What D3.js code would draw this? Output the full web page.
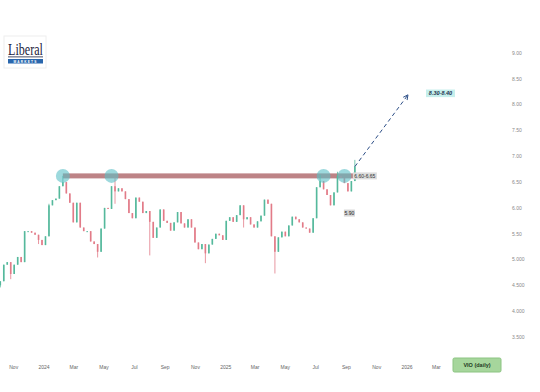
<!DOCTYPE html>
<html>
<head>
<meta charset="utf-8">
<script src="https://cdn.jsdelivr.net/npm/d3@7"></script>
<style>
  body { margin: 0; background: #fff; }
  svg { display: block; font-family: "Liberation Sans", Arial, sans-serif; }
</style>
</head>
<body>
<div id="chart"></div>
<script>
// weekly closes, first Friday = 2023-10-06
var weekStart = '2023-10-06';
var firstOpen = 4.50;
var closes = [
  4.58, 4.90, 4.95, 4.72, 4.90, 5.05, 4.95, 5.55, 5.55, 5.52,
  5.48, 5.38, 5.28, 5.45, 6.05, 6.15, 6.18, 6.42, 6.50, 6.28,
  6.10, 5.72, 6.10, 5.62, 5.55, 5.55, 5.35, 5.30, 5.15, 5.60,
  6.00, 5.98, 6.42, 6.32, 6.38, 6.32, 6.17, 5.90, 5.80, 6.20,
  6.12, 5.90, 5.94, 5.73, 5.42, 5.62, 5.97, 5.75, 5.71, 5.56,
  5.72, 5.92, 5.70, 5.62, 5.78, 5.62, 5.33, 5.20, 5.30, 5.12,
  5.29, 5.40, 5.50, 5.47, 5.38, 5.75, 5.82, 5.73, 5.86, 6.05,
  5.78, 5.82, 5.68, 5.62, 5.74, 5.85, 6.16, 6.08, 5.45, 5.15,
  5.43, 5.54, 5.45, 5.66, 5.83, 5.78, 5.72, 5.62, 5.60, 5.52,
  5.80, 6.40, 6.52, 6.36, 6.25, 6.05, 6.30, 6.62, 6.58, 6.48,
  6.32, 6.52, 6.80
];
// [week index, price] for the longer wicks
var wickHighs = [[14, 6.08], [18, 6.62], [33, 6.60], [92, 6.64], [97, 6.70], [102, 6.93]];
var wickLows = [[0, 4.46], [3, 4.62], [11, 5.30], [28, 5.04], [33, 6.08], [43, 5.08], [59, 4.93], [70, 5.62], [79, 4.73]];

var yTicks = [9.00, 8.50, 8.00, 7.50, 7.00, 6.50, 6.00, 5.50, 5.00, 4.50, 4.00, 3.50];
var yTickLabels = ['9.00', '8.50', '8.00', '7.50', '7.00', '6.50', '6.00', '5.50', '5.000', '4.500', '4.000', '3.500'];
var xTickDates = ['2023-11-01', '2024-01-01', '2024-03-01', '2024-05-01', '2024-07-01', '2024-09-01', '2024-11-01',
  '2025-01-01', '2025-03-01', '2025-05-01', '2025-07-01', '2025-09-01', '2025-11-01', '2026-01-01', '2026-03-01'];
var xTickLabels = ['Nov', '2024', 'Mar', 'May', 'Jul', 'Sep', 'Nov', '2025', 'Mar', 'May', 'Jul', 'Sep', 'Nov', '2026', 'Mar'];

var resistance = 6.62;
var touchDates = ['2024-02-09', '2024-05-17', '2025-07-18', '2025-08-29'];
var supportLabel = { date: '2025-09-08', price: 5.90, text: '5.90' };
var targetDate = '2026-01-04';
var targetPrice = 8.19;

var parse = d3.timeParse('%Y-%m-%d');
var W = 540, H = 392;

var x = d3.scaleTime()
  .domain([parse('2024-01-01'), parse('2026-01-01')])
  .range([43.5, 406.5]);
var y = d3.scaleLinear()
  .domain([3.5, 9])
  .range([337, 53]);

var svg = d3.select('#chart').append('svg')
  .attr('width', W)
  .attr('height', H);

// candles
var start = parse(weekStart);
var candles = closes.map(function(c, i){
  var o = i === 0 ? firstOpen : closes[i - 1];
  var hi = Math.max(o, c), lo = Math.min(o, c);
  wickHighs.forEach(function(w){ if (w[0] === i) hi = Math.max(hi, w[1]); });
  wickLows.forEach(function(w){ if (w[0] === i) lo = Math.min(lo, w[1]); });
  return { date: d3.timeDay.offset(start, 7 * i), open: o, close: c, high: hi, low: lo };
});
var upCol = '#55b99c', downCol = '#e27b88';

// resistance band
svg.append('rect')
  .attr('x', x(parse(touchDates[0])))
  .attr('y', y(resistance) - 2.5)
  .attr('width', x(candles[candles.length - 1].date) - x(parse(touchDates[0])))
  .attr('height', 5)
  .attr('fill', '#ad6468')
  .attr('opacity', 0.8);

var g = svg.append('g');
g.selectAll('line.wick')
  .data(candles)
  .enter()
  .append('line')
  .attr('x1', function(d){ return x(d.date); })
  .attr('x2', function(d){ return x(d.date); })
  .attr('y1', function(d){ return y(d.high); })
  .attr('y2', function(d){ return y(d.low); })
  .attr('stroke', function(d){ return d.close >= d.open ? upCol : downCol; })
  .attr('stroke-width', 0.8);
g.selectAll('rect')
  .data(candles)
  .enter()
  .append('rect')
  .attr('x', function(d){ return x(d.date) - 0.8; })
  .attr('y', function(d){ return y(Math.max(d.open, d.close)); })
  .attr('width', 1.6)
  .attr('height', function(d){ return Math.max(1, Math.abs(y(d.open) - y(d.close))); })
  .attr('fill', function(d){ return d.close >= d.open ? upCol : downCol; });

// touch circles
svg.selectAll('circle.touch')
  .data(touchDates)
  .enter()
  .append('circle')
  .attr('cx', function(d){ return x(parse(d)); })
  .attr('cy', y(resistance))
  .attr('r', 7)
  .attr('fill', '#5cc0c6')
  .attr('opacity', 0.6);

// 6.60-6.65 label
var last = candles[candles.length - 1];
var rl = svg.append('g').attr('transform', 'translate(' + (x(last.date) - 2) + ',' + y(resistance) + ')');
rl.append('rect').attr('x', 0).attr('y', -3.5).attr('width', 24).attr('height', 7).attr('fill', '#dcdcdc');
rl.append('text').attr('x', 12).attr('y', 1.8).attr('text-anchor', 'middle')
  .attr('font-size', 5).attr('fill', '#333').text('6.60-6.65');

// 5.90 label
var sl = svg.append('g').attr('transform', 'translate(' + x(parse(supportLabel.date)) + ',' + y(supportLabel.price) + ')');
sl.append('rect').attr('x', -5.5).attr('y', -3.5).attr('width', 11).attr('height', 7).attr('fill', '#d6d6d6');
sl.append('text').attr('x', 0).attr('y', 1.8).attr('text-anchor', 'middle')
  .attr('font-size', 5).attr('fill', '#222').text(supportLabel.text);

// projection arrow
svg.append('defs').append('marker')
  .attr('id', 'arr')
  .attr('viewBox', '0 0 10 10')
  .attr('refX', 9).attr('refY', 5)
  .attr('markerWidth', 6).attr('markerHeight', 6)
  .attr('orient', 'auto')
  .append('path')
  .attr('d', 'M1,1 L9,5 L1,9')
  .attr('fill', 'none')
  .attr('stroke', '#2b4d86')
  .attr('stroke-width', 1.5);
svg.append('line')
  .attr('x1', x(last.date))
  .attr('y1', y(last.close))
  .attr('x2', x(parse(targetDate)))
  .attr('y2', y(targetPrice))
  .attr('stroke', '#2b4d86')
  .attr('stroke-width', 1)
  .attr('stroke-dasharray', '4,3')
  .attr('marker-end', 'url(#arr)');

var tl = svg.append('g').attr('transform', 'translate(' + (x(parse(targetDate)) + 18) + ',' + (y(targetPrice) - 1.5) + ')');
tl.append('rect').attr('x', 0).attr('y', -3.8).attr('width', 29).attr('height', 7.6).attr('fill', '#c6efec');
tl.append('text').attr('x', 14.5).attr('y', 2).attr('text-anchor', 'middle')
  .attr('font-size', 5.5).attr('font-weight', 'bold').attr('font-style', 'italic')
  .attr('fill', '#1d2f4d').text('8.30-8.40');

// right price axis
svg.selectAll('text.ylab')
  .data(yTicks)
  .enter()
  .append('text')
  .attr('class', 'ylab')
  .attr('x', 512)
  .attr('y', function(d){ return y(d) + 1.8; })
  .attr('font-size', 5)
  .attr('fill', '#888')
  .text(function(d, i){ return yTickLabels[i]; });

// time axis
var xAxis = d3.axisBottom(x)
  .tickValues(xTickDates.map(parse))
  .tickFormat(function(d, i){ return xTickLabels[i]; })
  .tickSize(0);
var ax = svg.append('g')
  .attr('transform', 'translate(0,362)')
  .call(xAxis);
ax.select('.domain').remove();
ax.selectAll('text').attr('font-size', 5).attr('fill', '#666').attr('font-family', '"Liberation Sans", Arial, sans-serif');

// symbol tag
svg.append('rect')
  .attr('x', 453).attr('y', 358).attr('width', 48).attr('height', 14)
  .attr('rx', 1.5)
  .attr('fill', '#a6d69c')
  .attr('stroke', '#8cc482');
svg.append('text')
  .attr('x', 477).attr('y', 367)
  .attr('text-anchor', 'middle')
  .attr('font-size', 5.5)
  .attr('font-weight', 'bold')
  .attr('fill', '#1f3a1f')
  .text('VIO (daily)');

// logo
var logo = svg.append('g').attr('transform', 'translate(4,36)');
logo.append('rect').attr('x', 0).attr('y', 0).attr('width', 42).attr('height', 32).attr('fill', '#fff')
  .attr('stroke', '#eee');
logo.append('text')
  .attr('x', 4).attr('y', 19)
  .attr('font-family', '"Liberation Serif", "DejaVu Serif", serif')
  .attr('font-size', 17)
  .attr('textLength', 35)
  .attr('lengthAdjust', 'spacingAndGlyphs')
  .attr('fill', '#1d2340')
  .text('Liberal');
logo.append('rect').attr('x', 4).attr('y', 20.5).attr('width', 35).attr('height', 0.8).attr('fill', '#1d2340');
logo.append('rect').attr('x', 4).attr('y', 23).attr('width', 35).attr('height', 4.5).attr('fill', '#2a67ad');
logo.append('text')
  .attr('x', 21.5).attr('y', 26.6)
  .attr('text-anchor', 'middle')
  .attr('font-size', 3.2)
  .attr('font-weight', 'bold')
  .attr('letter-spacing', 1.2)
  .attr('fill', '#fff')
  .text('MARKETS');
</script>
</body>
</html>
